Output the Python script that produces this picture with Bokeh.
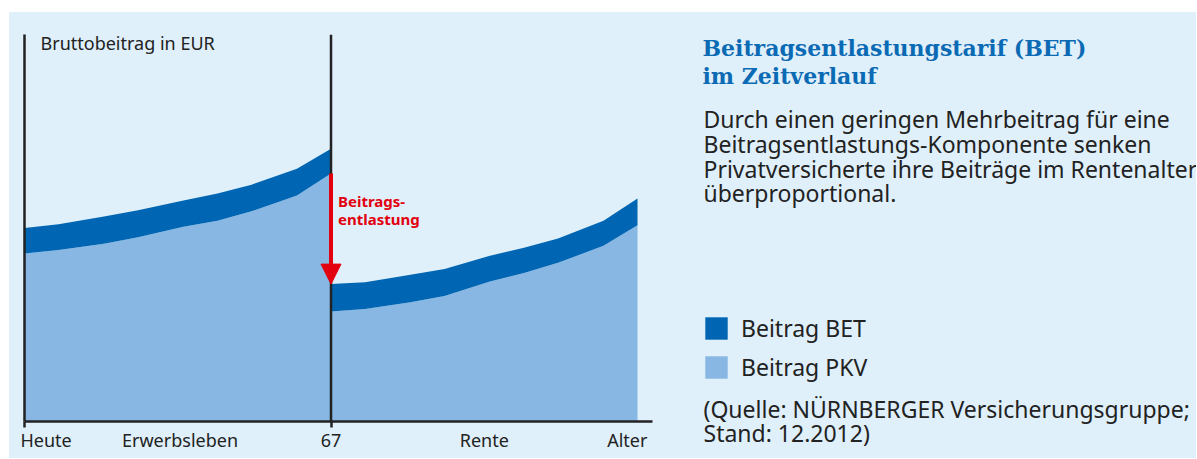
from bokeh.plotting import figure
from bokeh.layouts import row
from bokeh.models import (Range1d, FixedTicker, Span, Label, Arrow, NormalHead,
                          Legend, LegendItem, ColumnDataSource)
from bokeh.embed import file_html
from bokeh.resources import INLINE

# ---- data (arbitrary units) ----
ages_work = [40, 43, 47, 50, 54, 57, 60, 64, 67]
pkv_work = [43.4, 44.3, 45.9, 47.6, 50.3, 51.9, 54.3, 58.4, 64.1]
bet_work = [6.6, 6.7, 7.1, 7.0, 6.8, 7.0, 6.9, 6.9, 6.4]

ages_rente = [67, 70, 74, 77, 81, 84, 87, 91, 94]
pkv_rente = [28.4, 29.1, 30.8, 32.4, 36.2, 38.4, 41.0, 45.4, 50.7]
bet_rente = [7.1, 6.9, 7.1, 7.0, 6.6, 6.5, 6.3, 6.5, 6.9]

tick_pos = [41.9, 53.7, 67, 80.5, 93.1]
tick_labels = ["Heute", "Erwerbsleben", "67", "Rente", "Alter"]
marker_ticks = [40, 67]
retirement_age = 67

title_lines = ["Beitragsentlastungstarif (BET)", "im Zeitverlauf"]
body_lines = ["Durch einen geringen Mehrbeitrag für eine",
              "Beitragsentlastungs-Komponente senken",
              "Privatversicherte ihre Beiträge im Rentenalter",
              "überproportional."]
source_lines = ["(Quelle: NÜRNBERGER Versicherungsgruppe;", "Stand: 12.2012)"]
arrow_lines = ["Beitrags-", "entlastung"]
legend_labels = ["Beitrag BET", "Beitrag PKV"]
y_title = "Bruttobeitrag in EUR"

# ---- styles ----
BG = "#dff0fa"
DARK = "#0066b3"
LIGHT = "#87b7e2"
INK = "#222222"
RED = "#e3000f"
TITLE = "#0b6ab4"
SANS = "Noto Sans"

X_END = 95.32
Y_END = 100


def no_align(fig):
    if "frame_align" in fig.properties():
        fig.frame_align = False


# ---------------- chart ----------------
p = figure(width=671, height=446, x_range=Range1d(40, X_END), y_range=Range1d(0, Y_END),
           output_backend="svg", toolbar_location=None,
           min_border_left=15, min_border_right=28, min_border_top=22, min_border_bottom=37)
p.background_fill_alpha = 0
p.border_fill_color = BG
p.outline_line_color = None
p.grid.visible = False
no_align(p)


def stack(fig, ages, pkv, bet, **kw):
    top = [a + b for a, b in zip(pkv, bet)]
    src = ColumnDataSource(dict(x=ages, base=[0] * len(ages), pkv=pkv, top=top))
    r_l = fig.varea(x="x", y1="base", y2="pkv", source=src, fill_color=LIGHT, **kw)
    r_d = fig.varea(x="x", y1="pkv", y2="top", source=src, fill_color=DARK, **kw)
    return r_l, r_d, top


rl1, rd1, top_work = stack(p, ages_work, pkv_work, bet_work)
rl2, rd2, top_rente = stack(p, ages_rente, pkv_rente, bet_rente)

xa = p.xaxis[0]
xa.ticker = FixedTicker(ticks=tick_pos, minor_ticks=marker_ticks)
xa.major_label_overrides = {t: l for t, l in zip(tick_pos, tick_labels)}
xa.major_tick_line_color = None
xa.major_tick_out = 0
xa.major_tick_in = 0
xa.minor_tick_out = 6
xa.minor_tick_in = 0
xa.minor_tick_line_color = INK
xa.minor_tick_line_width = 2.5
xa.axis_line_color = INK
xa.axis_line_width = 2.5
xa.major_label_standoff = 0
xa.major_label_text_font = SANS
xa.major_label_text_font_size = "18px"
xa.major_label_text_color = INK

ya = p.yaxis[0]
ya.ticker = FixedTicker(ticks=[])
ya.major_tick_out = 0
ya.major_tick_in = 0
ya.minor_tick_out = 0
ya.major_label_standoff = 0
ya.axis_line_color = INK
ya.axis_line_width = 2.5

p.add_layout(Span(location=retirement_age, dimension="height", line_color=INK, line_width=2.5))

p.add_layout(Arrow(x_start=retirement_age, y_start=pkv_work[-1],
                   x_end=retirement_age, y_end=top_rente[0],
                   line_color=RED, line_width=4,
                   end=NormalHead(size=20, fill_color=RED, line_color=RED)))

for i, t in enumerate(arrow_lines):
    p.add_layout(Label(x=retirement_age, y=pkv_work[-1], x_offset=7, y_offset=-27.4 - 18.4 * i,
                       text=t, text_font=SANS, text_font_style="bold", text_font_size="15px",
                       text_color=RED, text_baseline="alphabetic"))

p.add_layout(Label(x=40, y=Y_END, x_offset=16, y_offset=-8, text=y_title, text_font=SANS,
                   text_font_size="18px", text_color=INK, text_baseline="alphabetic"))

# ---------------- info panel ----------------
QW, QH = 516, 446
q = figure(width=QW, height=QH, x_range=Range1d(0, QW), y_range=Range1d(0, QH),
           output_backend="svg", toolbar_location=None, min_border=0,
           x_axis_location=None, y_axis_location=None)
q.background_fill_alpha = 0
q.border_fill_color = BG
q.outline_line_color = None
q.grid.visible = False
no_align(q)

for i, t in enumerate(title_lines):
    q.add_layout(Label(x=22, y=411 - 28.3 * i, text=t,
                       text_font="DejaVu Serif", text_font_style="bold", text_font_size="22px",
                       text_color=TITLE, text_baseline="alphabetic"))

for i, t in enumerate(body_lines):
    q.add_layout(Label(x=23, y=339.5 - 24.8 * i, text=t,
                       text_font=SANS, text_font_size="23px", text_color=INK,
                       text_baseline="alphabetic"))

for i, t in enumerate(source_lines):
    q.add_layout(Label(x=23, y=49.5 - 24 * i, text=t,
                       text_font=SANS, text_font_size="23px", text_color=INK,
                       text_baseline="alphabetic"))

# legend keys: the same series, drawn invisibly in this panel only to feed the legend
kl, kd, _ = stack(q, ages_work, pkv_work, bet_work, visible=False)
legend = Legend(items=[LegendItem(label=legend_labels[0], renderers=[kd]),
                       LegendItem(label=legend_labels[1], renderers=[kl])],
                location=(22, 75), orientation="vertical",
                glyph_width=28, glyph_height=28, label_height=28, spacing=7,
                padding=0, margin=0, label_standoff=11,
                label_text_font=SANS, label_text_font_size="23px", label_text_color=INK,
                background_fill_alpha=0, border_line_color=None,
                inactive_fill_alpha=0, click_policy="none")
q.add_layout(legend)

layout = row(p, q, margin=(12, 0, 0, 9), styles={"background-color": BG})

open("out.html", "w").write(file_html(layout, INLINE))
